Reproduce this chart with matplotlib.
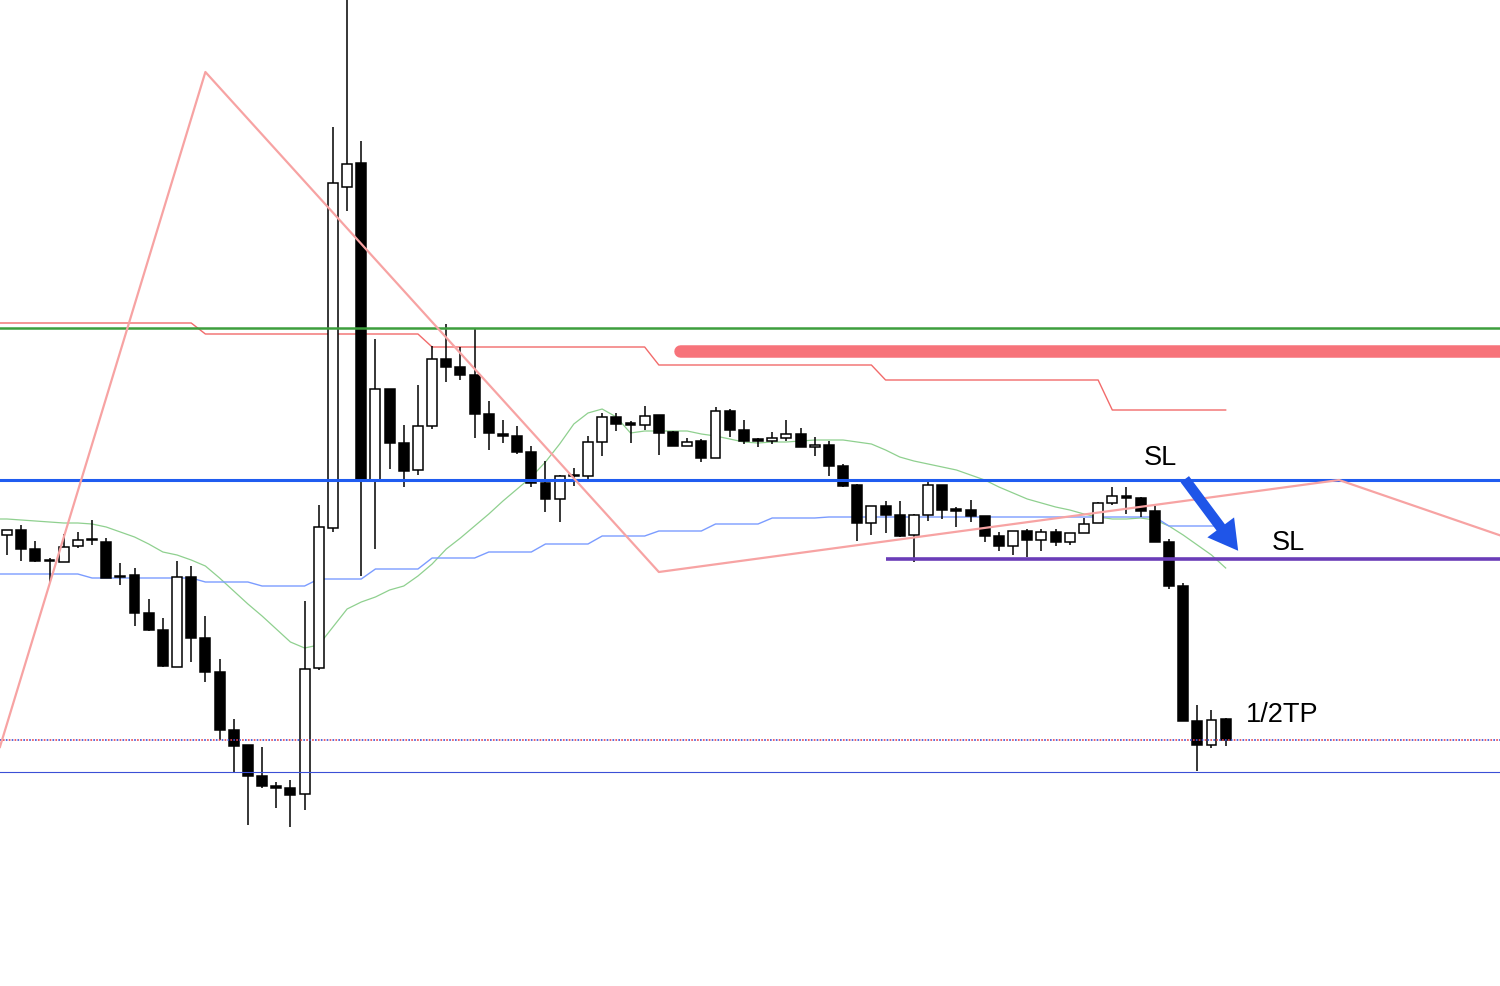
import numpy as np
import matplotlib
matplotlib.use("Agg")
import matplotlib.pyplot as plt

plt.rcParams['font.family'] = ['Liberation Sans', 'DejaVu Sans']

# candle prices (chart points, higher = up)
opens = [464, 469, 450, 439, 437, 453, 460, 457, 422, 424, 386, 369, 332, 422, 361, 327,
         269, 254, 223, 213, 211, 205, 331, 471, 812, 836, 518, 610, 556, 529, 573, 640,
         632, 624, 585, 565, 563, 547, 516, 500, 523, 523, 557, 582, 576, 574, 584, 567,
         553, 558, 541, 588, 569, 560, 558, 561, 565, 552, 554, 533, 514, 476, 493, 484,
         464, 484, 514, 490, 489, 483, 463, 453, 468, 459, 467, 457, 466, 476, 496, 503,
         501, 488, 457, 413, 278, 254, 280]
highs = [469, 474, 458, 441, 465, 467, 479, 461, 436, 431, 400, 381, 438, 433, 383, 340,
         280, 254, 252, 217, 219, 398, 494, 872, 1010, 858, 660, 610, 574, 614, 653, 675,
         652, 671, 598, 579, 573, 553, 538, 524, 531, 563, 586, 586, 578, 593, 584, 568,
         561, 560, 592, 590, 579, 561, 567, 579, 571, 562, 558, 535, 515, 493, 498, 498,
         485, 519, 514, 492, 499, 483, 467, 468, 470, 470, 470, 466, 481, 497, 512, 512,
         502, 493, 460, 416, 294, 289, 281]
lows = [444, 438, 437, 417, 437, 451, 454, 421, 414, 373, 368, 332, 332, 337, 317, 259,
        226, 174, 211, 191, 172, 189, 329, 467, 788, 423, 450, 530, 512, 524, 570, 617,
        619, 561, 549, 556, 545, 512, 487, 477, 513, 519, 543, 568, 556, 569, 544, 553,
        553, 537, 541, 562, 555, 552, 555, 558, 552, 543, 523, 512, 458, 464, 466, 462,
        437, 478, 480, 472, 477, 457, 448, 444, 442, 448, 453, 454, 466, 476, 494, 485,
        482, 457, 410, 278, 228, 251, 253]
closes = [469, 450, 438, 438, 452, 459, 459, 421, 423, 386, 369, 333, 422, 361, 327, 269,
          253, 223, 213, 211, 204, 330, 472, 816, 835, 518, 610, 556, 528, 573, 640, 632,
          624, 585, 566, 563, 547, 516, 500, 523, 524, 557, 582, 575, 574, 583, 566, 553,
          557, 541, 588, 569, 558, 558, 561, 565, 552, 554, 533, 513, 476, 493, 484, 463,
          484, 514, 489, 488, 483, 463, 453, 468, 459, 467, 457, 466, 475, 496, 503, 501,
          488, 457, 413, 278, 254, 279, 259]

# fast moving average (green)
ma_fast = [480, 479, 478, 477, 476, 476, 475, 472, 467, 462, 455, 447, 444, 439, 433, 421,
           408, 395, 383, 370, 357, 351, 354, 372, 390, 397, 402, 409, 413, 423, 435, 450,
           461, 473, 485, 498, 510, 522, 537, 555, 575, 586, 590, 582, 566, 568, 568, 568,
           568, 565, 563, 560, 557, 556, 557, 557, 558, 559, 559, 559, 557, 555, 549, 542,
           538, 535, 532, 529, 524, 519, 512, 506, 500, 496, 492, 489, 485, 482, 480, 480,
           481, 479, 473, 464, 454, 444, 431]
# higher timeframe average (blue), 4 bars per step
ma_htf = [425] * 6 + [421] * 8 + [417] * 4 + [413] * 4 + [420] * 4 + [430] * 4 + \
         [441] * 4 + [447] * 4 + [455] * 4 + [463] * 4 + [468] * 4 + [475] * 4 + \
         [481] * 4 + [482] * 24 + [473] * 5
# higher timeframe step line (red)
htf_step = [676] * 14 + [665] * 16 + [652] * 16 + [634] * 16 + [619] * 16 + [589] * 9

# zigzag pivots
zz_x = [-0.5, 14, 46, 94, 105.5]
zz_y = [252, 927, 427, 519, 463]

# horizontal levels
green_level = 671
blue_level = 519
low_level = 227
tp_level = 259
sl_level = 440
sl_start = 62
zone_level = 648
zone_start = 47.5

n = len(opens)
idx = np.arange(n)
o = np.array(opens)
c = np.array(closes)
h = np.array(highs)
l = np.array(lows)

# indicator lines run on from the left edge of the window
x_ind = np.r_[-0.6, idx]


def from_edge(vals):
    return np.r_[vals[0], vals]


fig = plt.figure(figsize=(15, 9.87), dpi=100)
ax = fig.add_axes([0, 0, 1, 1])
ax.set_xlim(-0.494, 105.36)
ax.set_ylim(13, 1000)
ax.axis('off')

# indicators under candles
ax.plot(x_ind, from_edge(ma_fast), color='#8fd08f', lw=0.9, zorder=2)
ax.plot(x_ind, from_edge(ma_htf), color='#7b9cff', lw=1.0, zorder=2)
ax.plot(x_ind, from_edge(htf_step), color='#f26b6b', lw=1.0, zorder=2)

# candles
ax.vlines(idx, l, h, color='black', lw=1.1, zorder=3)
body_low = np.minimum(o, c)
body_h = np.maximum(np.abs(c - o), 1.5)
up = c > o
ax.bar(idx[up], body_h[up], bottom=body_low[up], width=0.7,
       facecolor='white', edgecolor='black', linewidth=1.1, zorder=4)
ax.bar(idx[~up], body_h[~up], bottom=body_low[~up], width=0.7,
       facecolor='black', edgecolor='black', linewidth=1.1, zorder=4)

# horizontal levels
ax.axhline(green_level, color='#3d9e3d', lw=1.8, zorder=5)
ax.axhline(blue_level, color='#1f5cf0', lw=2.2, zorder=5)
ax.axhline(low_level, color='#3b4fd6', lw=0.8, zorder=5)
ax.axhline(tp_level, color='#3b4fd6', lw=1.2, ls=(0, (1, 2.5)), zorder=5)
ax.axhline(tp_level, color='#e8434f', lw=1.2, ls=(1.75, (1, 2.5)), zorder=5)
ax.plot([sl_start, 106], [sl_level, sl_level], color='#6a3db8', lw=2.6,
        solid_capstyle='butt', zorder=5)
ax.plot([zone_start, 106], [zone_level, zone_level], color='#f7737a', lw=9,
        solid_capstyle='round', zorder=5)

# zigzag
ax.plot(zz_x, zz_y, color='#f7a3a3', lw=1.6, zorder=5)

# arrow and labels
ax.annotate('', xy=(87.0, 446), xytext=(83.0, 522),
            arrowprops=dict(arrowstyle='simple,head_width=2.4,head_length=2.1,tail_width=0.75',
                            color='#1f55e8', lw=0), zorder=6)
ax.text(81.4, 542, 'SL', fontsize=19.5, ha='center', va='center', zorder=7)
ax.text(90.4, 457, 'SL', fontsize=19.5, ha='center', va='center', zorder=7)
ax.text(87.4, 285, '1/2TP', fontsize=19.5, ha='left', va='center', zorder=7)

fig.savefig('out.png', dpi=100, facecolor='white')
